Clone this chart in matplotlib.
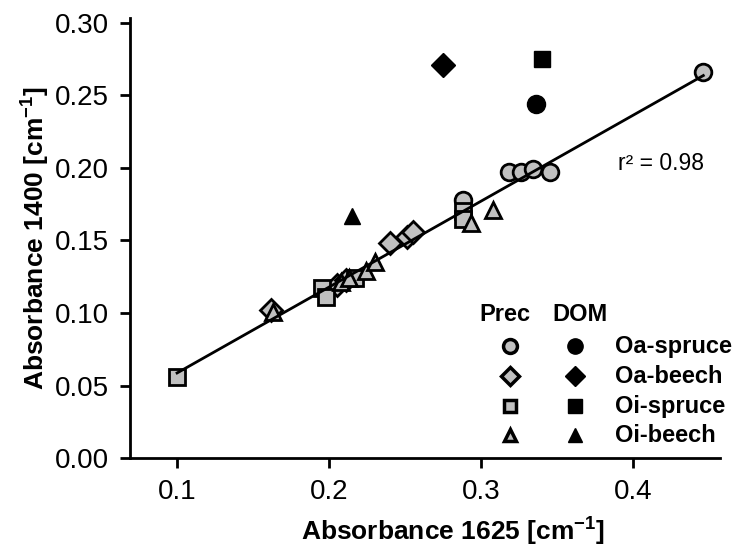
import numpy as np
import matplotlib
matplotlib.use("Agg")
import matplotlib.pyplot as plt

plt.rcParams['font.family'] = ['Liberation Sans', 'DejaVu Sans']
plt.rcParams['mathtext.fontset'] = 'custom'
plt.rcParams['mathtext.rm'] = 'Liberation Sans'
plt.rcParams['mathtext.bf'] = 'Liberation Sans:bold'

# Prec (grey) and DOM (black) samples, x = A1625, y = A1400
oa_spruce_prec_x = [0.288, 0.318, 0.326, 0.334, 0.345, 0.446]
oa_spruce_prec_y = [0.178, 0.197, 0.197, 0.199, 0.197, 0.266]
oa_beech_prec_x = [0.162, 0.205, 0.211, 0.240, 0.251, 0.255]
oa_beech_prec_y = [0.102, 0.119, 0.123, 0.148, 0.152, 0.156]
oi_spruce_prec_x = [0.100, 0.195, 0.198, 0.217, 0.288, 0.288]
oi_spruce_prec_y = [0.056, 0.117, 0.111, 0.124, 0.170, 0.165]
oi_beech_prec_x = [0.163, 0.208, 0.213, 0.224, 0.230, 0.293, 0.308]
oi_beech_prec_y = [0.101, 0.121, 0.124, 0.129, 0.135, 0.162, 0.171]

oa_spruce_dom = (0.336, 0.244)
oa_beech_dom = (0.275, 0.271)
oi_spruce_dom = (0.340, 0.275)
oi_beech_dom = (0.215, 0.167)

labels = ["Oa-spruce", "Oa-beech", "Oi-spruce", "Oi-beech"]
markers = ["o", "D", "s", "^"]
sizes = [12, 11, 11, 11]
grey = "#c0c0c0"

fig = plt.figure(figsize=(7.34, 5.52), dpi=100)
ax = fig.add_axes([0.177, 0.170, 0.804, 0.797])

prec = [(oa_spruce_prec_x, oa_spruce_prec_y), (oa_beech_prec_x, oa_beech_prec_y),
        (oi_spruce_prec_x, oi_spruce_prec_y), (oi_beech_prec_x, oi_beech_prec_y)]
dom = [oa_spruce_dom, oa_beech_dom, oi_spruce_dom, oi_beech_dom]

for (px, py), m, ms in zip(prec, markers, sizes):
    ax.plot(px, py, ls="none", marker=m, ms=ms, mfc=grey, mec="black", mew=2, zorder=3)
for (dx, dy), m, ms in zip(dom, markers, sizes):
    ax.plot([dx], [dy], ls="none", marker=m, ms=ms + 1, mfc="black", mec="black", mew=1, zorder=3)

# regression over the Prec samples
all_x = np.concatenate([np.array(p[0]) for p in prec])
all_y = np.concatenate([np.array(p[1]) for p in prec])
k, d = np.polyfit(all_x, all_y, 1)
xx = np.array([all_x.min(), all_x.max()])
ax.plot(xx, k * xx + d, color="black", lw=2, zorder=4)

ax.text(0.827, 0.670, "r² = 0.98", transform=ax.transAxes, fontsize=16.5, va="center")

ax.set_xlim(0.069, 0.457)
ax.set_ylim(0, 0.303)
ax.set_xticks([0.1, 0.2, 0.3, 0.4])
ax.set_xticklabels(["0.1", "0.2", "0.3", "0.4"])
ax.set_yticks(np.arange(0, 0.31, 0.05))
ax.set_yticklabels(["0.00", "0.05", "0.10", "0.15", "0.20", "0.25", "0.30"])
ax.tick_params(labelsize=20, width=2, length=7, direction="out", pad=8)
ax.spines["top"].set_visible(False)
ax.spines["right"].set_visible(False)
ax.spines["left"].set_linewidth(2)
ax.spines["bottom"].set_linewidth(2)

ax.set_xlabel(r"Absorbance 1625 [cm$\mathbf{^{-1}}$]", fontsize=19, fontweight="bold", labelpad=8)
ax.set_ylabel(r"Absorbance 1400 [cm$\mathbf{^{-1}}$]", fontsize=19, fontweight="bold", labelpad=2)
ax.xaxis.label.set_x(0.547)

# hand made legend
ax.text(0.635, 0.327, "Prec", transform=ax.transAxes, fontsize=17, fontweight="bold", ha="center", va="center")
ax.text(0.762, 0.327, "DOM", transform=ax.transAxes, fontsize=17, fontweight="bold", ha="center", va="center")
rows = [0.2545, 0.186, 0.118, 0.052]
for lab, m, ry, ms in zip(labels, markers, rows, sizes):
    ax.plot([0.644], [ry], transform=ax.transAxes, marker=m, ms=ms - 2, mfc=grey, mec="black", mew=2.5, clip_on=False)
    ax.plot([0.754], [ry], transform=ax.transAxes, marker=m, ms=ms - 1, mfc="black", mec="black", clip_on=False)
    ax.text(0.822, ry, lab, transform=ax.transAxes, fontsize=17, fontweight="bold", va="center")

fig.savefig("out.png", dpi=100)
